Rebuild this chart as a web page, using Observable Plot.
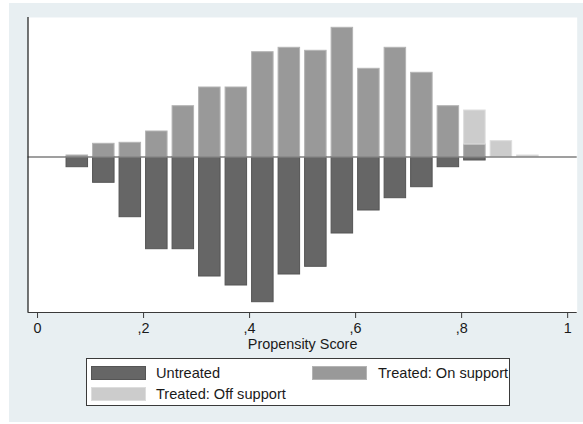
<!DOCTYPE html>
<html>
<head>
<meta charset="utf-8">
<script src="https://cdn.jsdelivr.net/npm/d3@7"></script>
<script src="https://cdn.jsdelivr.net/npm/@observablehq/plot@0.6"></script>
<style>
  body { margin: 0; background: #ffffff; }
  #wrap { position: relative; width: 583px; height: 424px; overflow: hidden;
          font-family: "Liberation Sans", Arial, sans-serif; }
  #bg { position: absolute; left: 9px; top: 3px; right: 0; bottom: 2px; background: #e8eff2; }
  #chart { position: absolute; left: 0; top: 0; }
  #legend { position: absolute; left: 86px; top: 358px; width: 422px; height: 46px;
            border: 1px solid #3a3a3a; background: #ffffff; }
  .sw { position: absolute; width: 55px; height: 14px; box-sizing: border-box; }
  .lt { position: absolute; font-size: 14.6px; line-height: 16px; color: #1a1a1a; white-space: nowrap; }
</style>
</head>
<body>
<div id="wrap">
  <div id="bg"></div>
  <div id="chart"></div>
  <div id="legend"></div>
</div>
<script>
// Bins of the propensity score (left edges), width 0.05
const binStart = [0.05, 0.10, 0.15, 0.20, 0.25, 0.30, 0.35, 0.40, 0.45,
                  0.50, 0.55, 0.60, 0.65, 0.70, 0.75, 0.80, 0.85, 0.90];
const binWidth = 0.05;
// Frequencies (relative units)
const untreated  = [10.2, 25.8, 60.2, 92.2, 92.2, 119.5, 128.5, 145.2, 117.5,
                    109.8, 76.5, 53.5, 41.2, 30.2, 10.2, 3.5, 0, 0];
const treatedOn  = [1.5, 13.2, 14.2, 25.5, 50.8, 69.5, 69.5, 104.8, 109.2,
                    106.2, 129.2, 88.2, 109.2, 84.2, 50.8, 12.5, 0, 0];
const treatedOff = [0, 0, 0, 0, 0, 0, 0, 0, 0,
                    0, 0, 0, 0, 0, 0, 34.0, 15.8, 1.5];
const tickValues = [0, 0.2, 0.4, 0.6, 0.8, 1];
const tickLabels = ["0", ",2", ",4", ",6", ",8", "1"];
const seriesNames = ["Untreated", "Treated: On support", "Treated: Off support"];
const seriesColors = ["#666666", "#999999", "#cccccc"];
const seriesStrokes = ["#555555", "#b4b4b4", "#dddddd"];

const xDomain = [-0.018, 1.018];
const yDomain = [-155.5, 139.5];

const rows = binStart.map((b, i) => ({
  x1: b, x2: b + binWidth,
  untreated: untreated[i], on: treatedOn[i], off: treatedOff[i]
}));

const plot = Plot.plot({
  width: 583, height: 424,
  marginTop: 17, marginBottom: 112, marginLeft: 27.5, marginRight: 6.3,
  x: { domain: xDomain },
  y: { domain: yDomain, axis: null },
  style: { fontFamily: "Liberation Sans, Arial, sans-serif", fontSize: "14.4px",
           color: "#1a1a1a", background: "transparent", overflow: "visible" },
  marks: [
    Plot.frame({ fill: "#ffffff", stroke: "none" }),
    Plot.rect(rows.filter(d => d.untreated > 0), {
      x1: "x1", x2: "x2", y1: 0, y2: d => -d.untreated,
      fill: seriesColors[0], stroke: seriesStrokes[0], strokeWidth: 1,
      insetLeft: 2.5, insetRight: 2.5
    }),
    Plot.rect(rows.filter(d => d.on > 0), {
      x1: "x1", x2: "x2", y1: 0, y2: "on",
      fill: seriesColors[1], stroke: seriesStrokes[1], strokeWidth: 1,
      insetLeft: 2.5, insetRight: 2.5
    }),
    Plot.rect(rows.filter(d => d.off > 0), {
      x1: "x1", x2: "x2", y1: "on", y2: d => d.on + d.off,
      fill: seriesColors[2], stroke: seriesStrokes[2], strokeWidth: 1,
      insetLeft: 2.5, insetRight: 2.5
    }),
    Plot.ruleY([0], { stroke: "#7f7f7f", strokeWidth: 1.6 }),
    Plot.ruleY([yDomain[0]], { stroke: "#3a3a3a", strokeWidth: 1 }),
    Plot.ruleX([xDomain[0]], { stroke: "#2a2a2a", strokeWidth: 1.3 }),
    Plot.axisX({
      ticks: tickValues,
      tickFormat: d => tickLabels[tickValues.indexOf(d)],
      tickSize: 6, tickPadding: 4, fontSize: 14.4, stroke: "#3a3a3a",
      label: null
    }),
    Plot.text(["Propensity Score"], {
      frameAnchor: "bottom", dy: 26.4, lineAnchor: "top",
      fontSize: 14.4, fill: "#1a1a1a"
    })
  ]
});
document.getElementById("chart").appendChild(plot);

// Legend
const legend = document.getElementById("legend");
const legendPos = [
  { sx: 4, sy: 7, tx: 69, ty: 6 },
  { sx: 225, sy: 7, tx: 291, ty: 6 },
  { sx: 4, sy: 28, tx: 69, ty: 27 }
];
seriesNames.forEach((name, i) => {
  const p = legendPos[i];
  const sw = document.createElement("div");
  sw.className = "sw";
  sw.style.left = p.sx + "px";
  sw.style.top = p.sy + "px";
  sw.style.background = seriesColors[i];
  sw.style.border = "1px solid " + seriesStrokes[i];
  legend.appendChild(sw);
  const t = document.createElement("div");
  t.className = "lt";
  t.style.left = p.tx + "px";
  t.style.top = p.ty + "px";
  t.textContent = name;
  legend.appendChild(t);
});
</script>
</body>
</html>
